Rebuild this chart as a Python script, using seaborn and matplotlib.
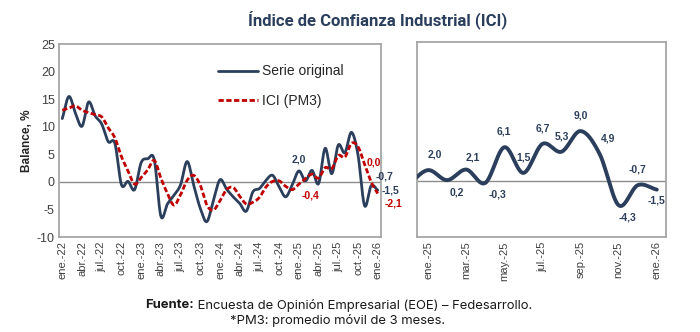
import numpy as np
import pandas as pd
import matplotlib
matplotlib.use("Agg")
import matplotlib.pyplot as plt
import seaborn as sns

# ---------------- data ----------------
month_abbr = ["ene.", "feb.", "mar.", "abr.", "may.", "jun.",
              "jul.", "ago.", "sep.", "oct.", "nov.", "dic."]
months = [f"{month_abbr[i % 12]}-{22 + i // 12}" for i in range(49)]  # ene.-22 .. ene.-26

serie_original = [11.5, 15.5, 12.5, 10.1, 14.5, 12.0, 10.5, 7.3, 7.0, -0.5, 0.1, -1.4,
                  3.5, 4.2, 4.0, -6.2, -4.0, -2.4, -0.5, 3.7, -0.6, -4.8, -7.2, -3.3,
                  0.4, -1.3, -2.7, -3.9, -5.3, -1.8, -1.2, 0.3, 1.2, -0.9, -2.7, -0.5,
                  2.0, 0.2, 2.1, -0.3, 6.1, 1.5, 6.7, 5.3, 9.0, 4.9, -4.3, -0.7, -1.5]

ici_pm3 = [13.0, 13.4, 13.8, 13.0, 12.6, 12.2, 11.8, 9.8, 8.0, 4.6, 2.0, -0.4,
           0.8, 2.2, 3.9, 0.7, -2.1, -4.2, -2.3, 0.3, 1.2, -0.6, -4.2, -5.1,
           -3.4, -1.4, -1.0, -2.6, -4.0, -3.7, -2.8, -0.9, 0.1, 0.2, -0.8, -1.4,
           -0.4, 0.6, 1.4, 0.7, 2.6, 2.4, 4.8, 4.5, 7.0, 6.4, 3.2, 0.0, -2.1]

# right panel: last months (dic.-24 .. ene.-26), labels shown from ene.-25
zoom_months = months[35:]
zoom_values = serie_original[35:]

left_labels_orig = {"ene.-25": "2,0", "dic.-25": "-0,7", "ene.-26": "-1,5"}
left_labels_pm3 = {"ene.-25": "-0,4", "dic.-25": "0,0", "ene.-26": "-2,1"}
right_labels = ["2,0", "0,2", "2,1", "-0,3", "6,1", "1,5", "6,7",
                "5,3", "9,0", "4,9", "-4,3", "-0,7", "-1,5"]

# ---------------- style ----------------
NAVY = "#2B3F5C"
RED = "#C00000"
GRAY_SPINE = "#A6A6A6"
TXT = "#404040"
DASH = [1.9, 0.9]

sns.set_theme(style="white")
plt.rcParams["font.family"] = ["Liberation Sans", "DejaVu Sans"]


def smooth(x, y, n=24):
    """Catmull-Rom smoothing for display (like Excel's smoothed line)."""
    x = np.asarray(x, float)
    y = np.asarray(y, float)
    px = np.concatenate([[2 * x[0] - x[1]], x, [2 * x[-1] - x[-2]]])
    py = np.concatenate([[2 * y[0] - y[1]], y, [2 * y[-1] - y[-2]]])
    xs, ys = [], []
    t = np.linspace(0, 1, n, endpoint=False)
    for i in range(1, len(px) - 2):
        for arr, out in ((px, xs), (py, ys)):
            p0, p1, p2, p3 = arr[i - 1], arr[i], arr[i + 1], arr[i + 2]
            out.append(0.5 * ((2 * p1) + (-p0 + p2) * t
                              + (2 * p0 - 5 * p1 + 4 * p2 - p3) * t ** 2
                              + (-p0 + 3 * p1 - 3 * p2 + p3) * t ** 3))
    xs.append([x[-1]])
    ys.append([y[-1]])
    return np.concatenate(xs), np.concatenate(ys)


fig = plt.figure(figsize=(7.0, 3.32), dpi=100)
ax1 = fig.add_axes([0.0843, 0.286, 0.460, 0.581])
ax2 = fig.add_axes([0.5957, 0.286, 0.3557, 0.588])

# ---------------- left panel ----------------
pos = np.arange(len(months))
sx, sy = smooth(pos, serie_original)
px_, py_ = smooth(pos, ici_pm3)
df_o = pd.DataFrame({"x": sx, "y": sy})
df_p = pd.DataFrame({"x": px_, "y": py_})
ax1.axhline(0, color="#8C8C8C", lw=1.0, zorder=1)
sns.lineplot(data=df_o, x="x", y="y", ax=ax1, color=NAVY, lw=2.0,
             sort=False, label="Serie original", zorder=3)
sns.lineplot(data=df_p, x="x", y="y", ax=ax1, color=RED, lw=2.0,
             sort=False, label="ICI (PM3)", zorder=4)
ax1.lines[-1].set_dashes(DASH)

ax1.set_xlim(-0.5, len(months) - 0.5)
ax1.set_ylim(-10, 25)
ax1.set_yticks(range(-10, 26, 5))
ax1.set_yticklabels([str(v) for v in range(-10, 26, 5)], fontsize=9, color=TXT)
tick_idx = list(range(0, len(months), 3))
ax1.set_xticks(tick_idx)
ax1.set_xticklabels([months[i] for i in tick_idx], rotation=90, fontsize=8, color=TXT)
ax1.tick_params(axis="both", length=0, pad=3)
ax1.set_xlabel("")
ax1.set_ylabel("Balance, %", fontsize=8.5, fontweight="bold", color="#262626", labelpad=3)

leg = ax1.legend(loc="upper left", bbox_to_anchor=(0.455, 0.96), frameon=False,
                 fontsize=10, handlelength=2.9, handletextpad=0.3, labelspacing=1.15,
                 labelcolor="#262626")
for h in leg.get_lines():
    h.set_linewidth(2.0)
leg.get_lines()[1].set_dashes(DASH)


def ann(ax, x, y, text, dx, dy, color, ha="center", va="center"):
    ax.annotate(text, xy=(x, y), xytext=(dx, dy), textcoords="offset points",
                ha=ha, va=va, fontsize=7.5, fontweight="bold", color=color)


for lab, txt in left_labels_orig.items():
    i = months.index(lab)
    if lab == "ene.-25":
        ann(ax1, i, serie_original[i], txt, 0, 8, NAVY)
    elif lab == "dic.-25":
        ann(ax1, i, serie_original[i], txt, 3, 7, NAVY, ha="left")
    else:
        ann(ax1, i, serie_original[i], txt, 3, 0, NAVY, ha="left")
for lab, txt in left_labels_pm3.items():
    i = months.index(lab)
    if lab == "ene.-25":
        ann(ax1, i, ici_pm3[i], txt, 2, -8, RED, ha="left")
    elif lab == "dic.-25":
        ann(ax1, i, ici_pm3[i], txt, -3, 14, RED, ha="left")
    else:
        ann(ax1, i, ici_pm3[i], txt, 5, -7, RED, ha="left")

# ---------------- right panel ----------------
zpos = np.arange(len(zoom_months)) - 1  # dic.-24 at -1, ene.-25 at 0
zx, zy = smooth(zpos, zoom_values)
df_z = pd.DataFrame({"x": zx, "y": zy})
ax2.axhline(0, color="#8C8C8C", lw=1.0, zorder=1)
sns.lineplot(data=df_z, x="x", y="y", ax=ax2, color=NAVY, lw=2.8, sort=False,
             legend=False, zorder=3)
ax2.set_xlim(-0.58, 12.48)
ax2.set_ylim(-10, 25)
ax2.set_yticks([])
zt = list(range(0, 13, 2))
ax2.set_xticks(zt)
ax2.set_xticklabels([zoom_months[i + 1] for i in zt], rotation=90, fontsize=8, color=TXT)
ax2.tick_params(axis="both", length=0, pad=3)
ax2.set_xlabel("")
ax2.set_ylabel("")

offsets = [(5, 11, "center"), (7, -9, "center"), (5, 9, "center"), (9, -8, "center"),
           (0, 11, "center"), (0, 11, "center"), (0, 11, "center"), (0, 11, "center"),
           (0, 11, "center"), (6, 11, "center"), (6, -9, "center"), (0, 11, "center"),
           (0, -8, "center")]
for k, txt in enumerate(right_labels):
    dx, dy, ha = offsets[k]
    ann(ax2, k, zoom_values[k + 1], txt, dx, dy, NAVY, ha=ha)

for ax in (ax1, ax2):
    for s in ax.spines.values():
        s.set_color(GRAY_SPINE)
        s.set_linewidth(1.3)
    ax.grid(False)

# ---------------- titles / footer ----------------
fam_t = ["Roboto", "DejaVu Sans"]
fig.text(0.54, 0.938, "Índice de Confianza Industrial (ICI)", ha="center", va="center",
         fontsize=12, fontweight="bold", color=NAVY, family=fam_t)

fam = ["Inter", "DejaVu Sans"]
renderer = fig.canvas.get_renderer()
y1 = 1 - 305 / 332
tb = fig.text(0, y1, "Fuente:", fontsize=9.4, fontweight="bold", color="#1a1a1a",
              family=fam, va="center", ha="left")
tr = fig.text(0, y1, " Encuesta de Opinión Empresarial (EOE) – Fedesarrollo.", fontsize=9.4,
              color="#1a1a1a", family=fam, va="center", ha="left")
wb = tb.get_window_extent(renderer).width / fig.bbox.width
wr = tr.get_window_extent(renderer).width / fig.bbox.width
x0 = 339 / 700 - (wb + wr) / 2
tb.set_x(x0)
tr.set_x(x0 + wb)
fig.text(338 / 700, 1 - 320.5 / 332, "*PM3: promedio móvil de 3 meses.", fontsize=9.4,
         color="#1a1a1a", family=fam, va="center", ha="center")

fig.savefig("out.png", dpi=100, facecolor="white")
